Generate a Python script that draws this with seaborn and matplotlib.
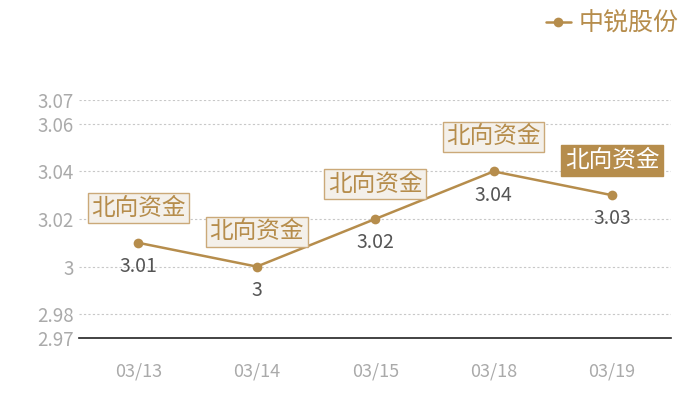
import matplotlib
matplotlib.use("Agg")
import matplotlib.pyplot as plt
import seaborn as sns
import pandas as pd

dates = ["03/13", "03/14", "03/15", "03/18", "03/19"]
prices = [3.01, 3.00, 3.02, 3.04, 3.03]
value_labels = ["3.01", "3", "3.02", "3.04", "3.03"]
tag_text = "北向资金"
series_name = "中锐股份"
y_ticks = [2.97, 2.98, 3.00, 3.02, 3.04, 3.06, 3.07]
y_tick_labels = ["2.97", "2.98", "3", "3.02", "3.04", "3.06", "3.07"]

gold = "#B68D4C"

sns.set_theme(style="white")
plt.rcParams["font.family"] = ["Noto Sans CJK SC", "DejaVu Sans"]

df = pd.DataFrame({"date": dates, "price": prices})

fig = plt.figure(figsize=(7, 4), dpi=100)
ax = fig.add_axes([0.113, 0.155, 0.846, 0.595])

sns.lineplot(data=df, x="date", y="price", ax=ax, color=gold, marker="o",
             markersize=7, markeredgewidth=0, linewidth=1.8, label=series_name,
             sort=False)

ax.set_xlim(-0.5, len(dates) - 0.5)
ax.set_ylim(2.97, 3.07)
ax.set_yticks(y_ticks)
ax.set_yticklabels(y_tick_labels)
ax.set_xlabel("")
ax.set_ylabel("")

for y in y_ticks[1:]:
    ax.axhline(y, color="#c8c8c8", linestyle=(0, (2, 2)), linewidth=0.8, zorder=0)

for side in ["top", "right", "left"]:
    ax.spines[side].set_visible(False)
ax.spines["bottom"].set_color("#222222")
ax.spines["bottom"].set_linewidth(1.2)

ax.tick_params(axis="y", length=0, labelsize=13.5, labelcolor="#aaaaaa", pad=4)
ax.tick_params(axis="x", length=0, labelsize=13, labelcolor="#aaaaaa", pad=18)

for i, (p, lab) in enumerate(zip(prices, value_labels)):
    ax.annotate(lab, (i, p), xytext=(0, -17), textcoords="offset points",
                ha="center", va="center", fontsize=14, color="#555555")
    last = i == len(prices) - 1
    ax.annotate(tag_text, (i, p), xytext=(0, 25), textcoords="offset points",
                ha="center", va="center", fontsize=17,
                color="white" if last else gold,
                bbox=dict(boxstyle="square,pad=0.15",
                          facecolor=gold if last else "#F4F0EA",
                          edgecolor=gold if last else "#CBA979",
                          linewidth=1.0))

leg = ax.legend(loc="upper right", bbox_to_anchor=(1.05, 1.47), frameon=False,
                fontsize=18, handlelength=1.0, handletextpad=0.3,
                markerscale=1.0)
for t in leg.get_texts():
    t.set_color(gold)

fig.savefig("out.png", dpi=100)
